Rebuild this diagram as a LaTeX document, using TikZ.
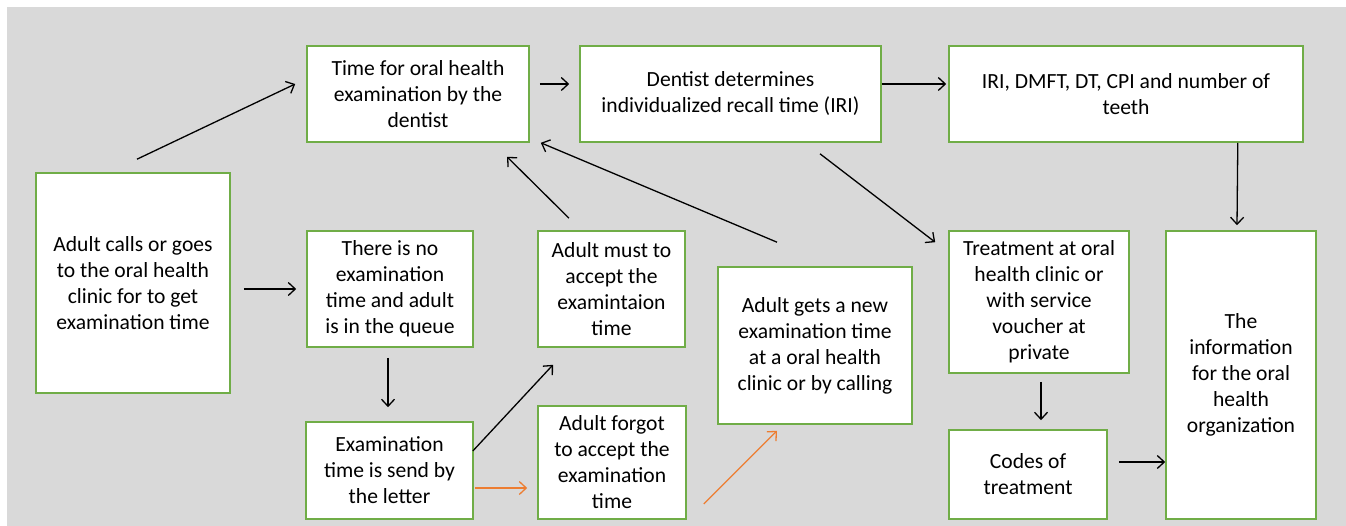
\documentclass[tikz,border=0pt]{standalone}
\usepackage{fontspec}
\setmainfont{Carlito}
\usetikzlibrary{arrows.meta,calc}
\definecolor{bggray}{HTML}{D9D9D9}
\definecolor{boxgreen}{HTML}{70AD47}
\definecolor{arrorange}{HTML}{ED7D31}
\tikzset{
  box/.style={draw=boxgreen, line width=1.6pt, fill=white, inner sep=0pt, align=center,
    font=\fontsize{21.6}{26}\selectfont},
  arr/.style={line width=1.3pt, draw=black, -{Straight Barb[length=7pt,width=13pt,line width=1.3pt]}},
  oarr/.style={arr, draw=arrorange}
}
\begin{document}
\begin{tikzpicture}[x=1pt,y=-1pt]
\useasboundingbox (0,0) rectangle (1346,526);
\fill[bggray] (7,7) rectangle (1346,526);

\node[box, minimum width=194pt, minimum height=220pt] (adult) at (133,283)
  {Adult calls or goes\\to the oral health\\clinic for to get\\examination time};
\node[box, minimum width=222pt, minimum height=96pt] (timefor) at (418,94)
  {Time for oral health\\examination by the\\dentist};
\node[box, minimum width=301pt, minimum height=96pt] (dentist) at (730.5,94)
  {Dentist determines\\individualized recall time (IRI)};
\node[box, minimum width=354pt, minimum height=96pt] (iri) at (1126,94)
  {IRI, DMFT, DT, CPI and number of\\teeth};
\node[box, minimum width=166pt, minimum height=116pt] (queue) at (390,289)
  {There is no\\examination\\time and adult\\is in the queue};
\node[box, minimum width=147pt, minimum height=116pt] (must) at (611.5,289)
  {Adult must to\\accept the\\examintaion\\time};
\node[box, minimum width=194pt, minimum height=157pt] (newtime) at (815,345.5)
  {Adult gets a new\\examination time\\at a oral health\\clinic or by calling};
\node[box, minimum width=180pt, minimum height=142pt] (treat) at (1039,302)
  {Treatment at oral\\health clinic or\\with service\\voucher at\\private};
\node[box, minimum width=150pt, minimum height=288pt] (info) at (1241,375)
  {The\\information\\for the oral\\health\\organization};
\node[box, minimum width=167pt, minimum height=97pt] (letter) at (389.5,470.5)
  {Examination\\time is send by\\the letter};
\node[box, minimum width=148pt, minimum height=113pt] (forgot) at (612,462.5)
  {Adult forgot\\to accept the\\examination\\time};
\node[box, minimum width=158pt, minimum height=89pt] (codes) at (1028,474.5)
  {Codes of\\treatment};

\draw[arr] ($(adult.north)+(4,-13)$) -- ($(timefor.west)+(-11,-10)$);
\draw[arr] ($(timefor.east)+(10,-10)$) -- ($(dentist.west)+(-10,-10)$);
\draw[arr] ($(dentist.east)+(0,-10)$) -- ($(iri.west)+(-2,-10)$);
\draw[arr] ($(iri.south east)+(-66,0)$) -- ($(info.north)+(-4,-5)$);
\draw[arr] ($(adult.east)+(13,6)$) -- ($(queue.west)+(-10,0)$);
\draw[arr] ($(queue.south)+(-2,10)$) -- ($(letter.north)+(-1.5,-14)$);
\draw[arr] ($(must.north)+(-42.5,-12)$) -- ($(timefor.south)+(89,14)$);
\draw[arr] ($(newtime.north)+(-38,-24)$) -- ($(timefor.south east)+(11,0)$);
\draw[arr] ($(dentist.south)+(89.5,11)$) -- ($(treat.north west)+(-13,12)$);
\draw[arr] ($(letter.east)+(-1,-19.5)$) -- ($(must.south)+(-58.5,17)$);
\draw[oarr] ($(letter.east)+(1,17.5)$) -- ($(forgot.west)+(-10,25.5)$);
\draw[oarr] ($(forgot.east)+(17,41.5)$) -- ($(newtime.south)+(-38,6)$);
\draw[arr] ($(treat.south)+(2,8)$) -- ($(codes.north)+(13,-9)$);
\draw[arr] ($(codes.east)+(11,-12.5)$) -- ($(info.west)+(0,87)$);
\end{tikzpicture}
\end{document}
